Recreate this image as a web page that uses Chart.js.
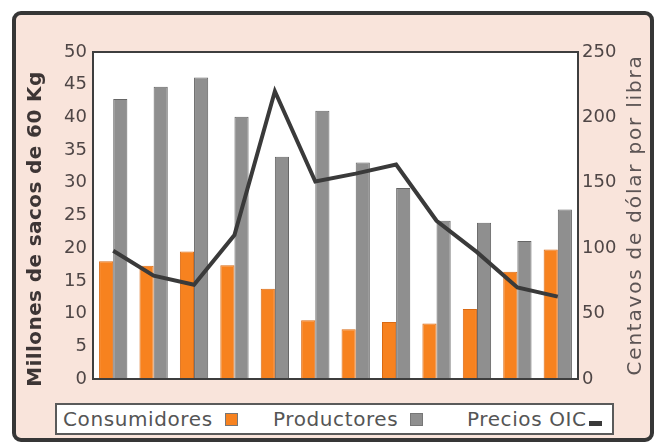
<!DOCTYPE html>
<html>
<head>
<meta charset="utf-8">
<script src="https://cdn.jsdelivr.net/npm/chart.js@4"></script>
<style>
  html, body { margin: 0; padding: 0; background: #fff; }
  #wrap { position: relative; width: 656px; height: 443px; }
  #frame {
    position: absolute; left: 12px; top: 11px; width: 634px; height: 423px;
    border: 4px solid #363636; border-radius: 9px;
    background: #f9e4db;
  }
  #chart { position: absolute; left: 0; top: 0; }
  #legend {
    position: absolute; left: 55px; top: 403px; width: 555px; height: 28px;
    border: 2px solid #5a5a5a; background: #fff;
    font-family: "DejaVu Sans", sans-serif; font-size: 20px; color: #555;
    letter-spacing: 0.6px;
  }
  #legend .item { position: absolute; top: 2px; white-space: nowrap; }
  #legend .box { display: inline-block; vertical-align: baseline; }
</style>
</head>
<body>
<div id="wrap">
  <div id="frame"></div>
  <canvas id="chart" width="656" height="443"></canvas>
  <div id="legend"></div>
</div>
<script>
const periodos = ['1', '2', '3', '4', '5', '6', '7', '8', '9', '10', '11', '12'];
const consumidores = [18.0, 17.3, 19.5, 17.4, 13.8, 9.0, 7.6, 8.7, 8.5, 10.7, 16.4, 19.8];
const productores = [42.8, 44.7, 46.1, 40.1, 34.0, 41.0, 33.1, 29.2, 24.2, 23.9, 21.1, 25.9];
const preciosOIC = [98, 79, 72, 110, 220, 151, 157, 164, 121, 97, 70, 63];

const tituloIzq = 'Millones de sacos de 60 Kg';
const tituloDer = 'Centavos de dólar por libra';

const naranja = '#f7821f';
const gris = '#8f8f8f';
const linea = '#3a3a3a';
const texto = '#4f4646';

// white plot area with a dark frame around it
const plotFrame = {
  id: 'plotFrame',
  beforeDatasetsDraw(chart) {
    const { ctx, chartArea: a } = chart;
    ctx.save();
    ctx.fillStyle = '#fff';
    ctx.fillRect(a.left, a.top, a.right - a.left, a.bottom - a.top);
    ctx.restore();
  },
  afterDraw(chart) {
    const { ctx, chartArea: a } = chart;
    ctx.save();
    ctx.strokeStyle = '#3e3e3e';
    ctx.lineWidth = 2;
    ctx.strokeRect(a.left, a.top, a.right - a.left, a.bottom - a.top);
    ctx.restore();
  }
};

// both axis titles read bottom-to-top
const axisTitles = {
  id: 'axisTitles',
  afterDraw(chart) {
    const { ctx, scales } = chart;
    const draw = (text, x, y, font, color, spacing) => {
      ctx.save();
      ctx.translate(x, y);
      ctx.rotate(-Math.PI / 2);
      ctx.font = font;
      ctx.letterSpacing = spacing;
      ctx.fillStyle = color;
      ctx.textAlign = 'center';
      ctx.textBaseline = 'middle';
      ctx.fillText(text, 0, 0);
      ctx.restore();
    };
    draw(tituloIzq, scales.y.left + 22, 229, 'bold 20px "DejaVu Sans"', '#3d3535', '0.4px');
    draw(tituloDer, scales.yPrecio.right - 17, 215, '20px "DejaVu Sans"', '#5c5454', '1.8px');
  }
};

const chart = new Chart(document.getElementById('chart'), {
  type: 'bar',
  data: {
    labels: periodos,
    datasets: [
      {
        type: 'line',
        label: 'Precios OIC',
        data: preciosOIC,
        yAxisID: 'yPrecio',
        borderColor: linea,
        backgroundColor: linea,
        borderWidth: 4,
        pointRadius: 0,
        tension: 0,
        order: 0
      },
      {
        label: 'Consumidores',
        data: consumidores,
        yAxisID: 'y',
        backgroundColor: naranja,
        borderColor: '#d96a14',
        borderWidth: 1,
        categoryPercentage: 0.7,
        barPercentage: 1.0,
        order: 1
      },
      {
        label: 'Productores',
        data: productores,
        yAxisID: 'y',
        backgroundColor: gris,
        borderColor: '#666',
        borderWidth: 1,
        categoryPercentage: 0.7,
        barPercentage: 1.0,
        order: 1
      }
    ]
  },
  options: {
    responsive: false,
    animation: false,
    layout: { padding: { left: 14, top: 52, right: 3, bottom: 64 } },
    plugins: { legend: { display: false }, tooltip: { enabled: false } },
    scales: {
      x: { display: false },
      y: {
        position: 'left',
        min: 0, max: 50,
        ticks: { stepSize: 5, color: texto, padding: 6, font: { family: 'DejaVu Sans', size: 18 } },
        grid: { display: false, drawTicks: false },
        border: { display: false },
        afterFit(s) { s.width = 79; }
      },
      yPrecio: {
        position: 'right',
        min: 0, max: 250,
        ticks: { stepSize: 50, color: texto, padding: 4, font: { family: 'DejaVu Sans', size: 18 } },
        grid: { display: false, drawTicks: false },
        border: { display: false },
        afterFit(s) { s.width = 75; }
      }
    }
  },
  plugins: [plotFrame, axisTitles]
});

// legend: label text first, then the swatch
const legendPos = { 'Consumidores': 6, 'Productores': 216, 'Precios OIC': 410 };
const legend = document.getElementById('legend');
['Consumidores', 'Productores', 'Precios OIC'].forEach(name => {
  const ds = chart.data.datasets.find(d => d.label === name);
  const item = document.createElement('span');
  item.className = 'item';
  item.style.left = legendPos[name] + 'px';
  item.textContent = name;
  const box = document.createElement('span');
  box.className = 'box';
  if (ds.type === 'line') {
    box.style.cssText = 'width:13px;height:5px;margin-left:2px;background:' + ds.borderColor;
  } else {
    box.style.cssText = 'width:11px;height:11px;margin-left:12px;border:1px solid #777;background:' + ds.backgroundColor;
  }
  item.appendChild(box);
  legend.appendChild(item);
});
</script>
</body>
</html>
